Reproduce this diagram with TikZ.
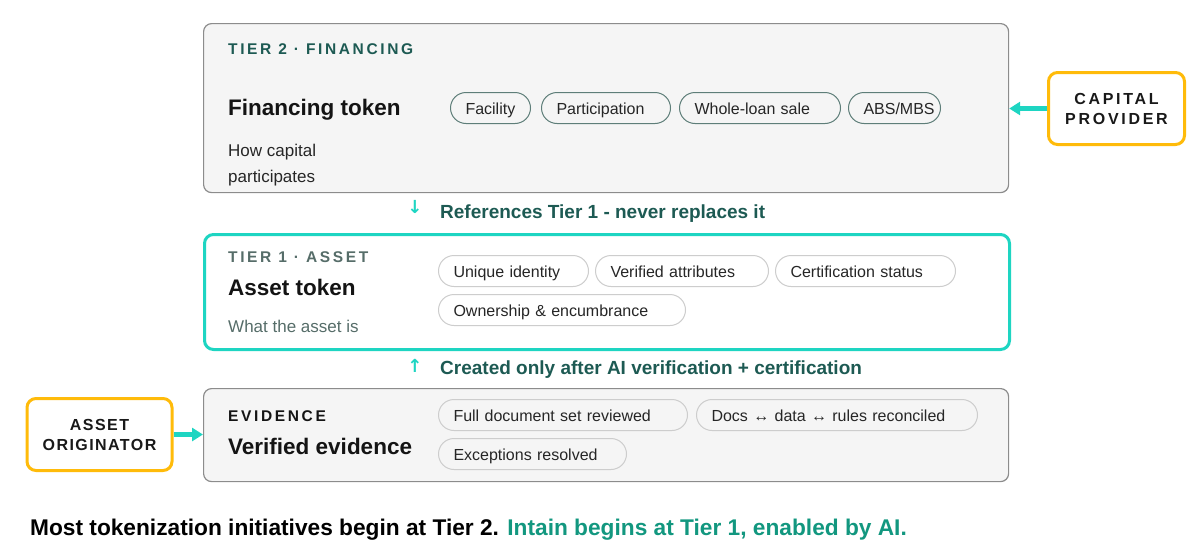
\documentclass[tikz,border=0pt]{standalone}
\usepackage{fontspec}
\setmainfont{Liberation Sans}
\newfontfamily\capsfont{Liberation Sans}[LetterSpace=17]
\newfontfamily\glyphfont{DejaVu Sans}
\usetikzlibrary{arrows.meta,positioning}
\definecolor{boxfill}{HTML}{F5F5F5}
\definecolor{boxline}{HTML}{8C8C8C}
\definecolor{accent}{HTML}{1ED5C2}
\definecolor{gold}{HTML}{FFBB0A}
\definecolor{deepteal}{HTML}{1D5A53}
\definecolor{greyteal}{HTML}{566D69}
\definecolor{intain}{HTML}{12977F}
\definecolor{pilldark}{HTML}{5E7E79}
\definecolor{pilllight}{HTML}{CDCDCD}
\tikzset{
	>=latex,                  % default tips
	tierbox/.style={draw=boxline, fill=boxfill, line width=1.2pt, rounded corners=8pt,
		anchor=north west, inner sep=0pt, minimum width=805pt},
	assetbox/.style={tierbox, draw=accent, fill=white, line width=3pt, rounded corners=9pt},
	party/.style={draw=gold, fill=white, line width=3pt, rounded corners=9pt,
		minimum height=72pt, align=center, text=black!90,
		font=\capsfont\bfseries\fontsize{16}{20}\selectfont},
	pill/.style={draw=pilllight, fill=white, line width=1pt, rounded corners=15.5pt,
		minimum height=31pt, inner xsep=15pt, inner ysep=0pt, anchor=west, align=left,
		text height=13pt, text depth=0pt, text=black!85, font=\fontsize{16}{19}\selectfont},
	darkpill/.style={pill, draw=pilldark, fill=boxfill},
	greypill/.style={pill, fill=boxfill},
	tag/.style={anchor=base west, inner sep=0pt, font=\capsfont\bfseries\fontsize{15.5}{18}\selectfont},
	title/.style={anchor=base west, inner sep=0pt, text=black!92, font=\bfseries\fontsize{22.5}{27}\selectfont},
	note/.style={anchor=base west, inner sep=0pt, align=left, text=black!85, font=\fontsize{17}{26}\selectfont},
	link/.style={anchor=base west, inner sep=0pt, text=deepteal, font=\bfseries\fontsize{19}{23}\selectfont},
	linkarrow/.style={inner sep=0pt, text=accent, font=\glyphfont\bfseries\fontsize{18}{20}\selectfont},
	feed/.style={draw=accent, line width=4.5pt, -{Triangle[length=11pt,width=13pt]}}
}
\begin{document}
\begin{tikzpicture}[x=1pt,y=-1pt]
	\useasboundingbox (0,0) rectangle (1199,549);
	
	% three tiers
	\node[tierbox, minimum height=169pt] (tier2) at (203,23) {};
	\node[assetbox, minimum height=115pt] (tier1) at (203,233) {};
	\node[tierbox, minimum height=93pt] (evidence) at (203,388) {};
	
	% tier 2 - financing
	\node[tag, text=deepteal] (tag2) at (228,54) {TIER 2 · FINANCING};
	\node[title] (fintitle) at (228,115) {Financing token};
	\node[note] (finnote) at (228,182) {How capital\\participates};
	\node[darkpill, text width=50pt] (facility) at (450,108) {Facility};
	\node[darkpill, text width=99pt] (particip) at (541,108) {Participation};
	\node[darkpill, text width=131pt] (wholeloan) at (679,108) {Whole-loan sale};
	\node[darkpill, text width=62pt] (absmbs) at (848,108) {ABS/MBS};
	
	% link between tier 2 and tier 1
	\node[linkarrow] (downarrow) at (415,207) {↓};
	\node[link] (refnote) at (440,218) {References Tier 1 - never replaces it};
	
	% tier 1 - asset
	\node[tag, text=greyteal] (tag1) at (228,262) {TIER 1 · ASSET};
	\node[title] (assettitle) at (228,295) {Asset token};
	\node[note, text=greyteal] (assetnote) at (228,332) {What the asset is};
	\node[pill, text width=120pt] (uniqueid) at (438,271) {Unique identity};
	\node[pill, text width=143pt] (verattr) at (595,271) {Verified attributes};
	\node[pill, text width=150pt] (certstat) at (775,271) {Certification status};
	\node[pill, text width=217pt] (ownership) at (438,310) {Ownership \& encumbrance};
	
	% link between evidence and tier 1
	\node[linkarrow] (uparrow) at (415,366) {↑};
	\node[link] (createnote) at (440,374) {Created only after AI verification + certification};
	
	% evidence
	\node[tag, text=black!92] (tag0) at (228,421) {EVIDENCE};
	\node[title] (evtitle) at (228,454) {Verified evidence};
	\node[greypill, text width=219pt] (fulldocs) at (438,415) {Full document set reviewed};
	\node[greypill, text width=251pt] (reconciled) at (696,415) {Docs ↔ data ↔ rules reconciled};
	\node[greypill, text width=158pt] (exceptions) at (438,454) {Exceptions resolved};
	
	% outside parties
	\node[party, minimum width=136pt] (capital) at (1116.5,108.5) {CAPITAL\\PROVIDER};
	\node[party, minimum width=145pt, font=\capsfont\bfseries\addfontfeature{LetterSpace=9}\fontsize{16}{20}\selectfont]
	(originator) at (99.5,434.5) {ASSET\\ORIGINATOR};
	\draw[feed] (capital.west) -- (capital.west -| tier2.east);
	\draw[feed] (originator.east) -- (originator.east -| evidence.west);
	
	% closing line
	\node[anchor=base west, inner sep=0pt, font=\bfseries\fontsize{22.7}{26}\selectfont] (closing) at (30,535)
	{Most tokenization initiatives begin at Tier 2. \textcolor{intain}{Intain begins at Tier 1, enabled by AI.}};
	
\end{tikzpicture}
\end{document}
